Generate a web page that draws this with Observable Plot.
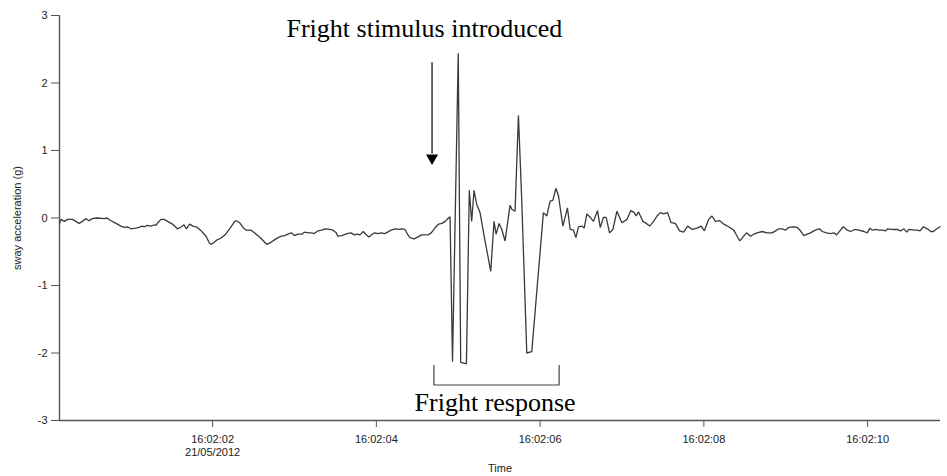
<!DOCTYPE html>
<html>
<head>
<meta charset="utf-8">
<script src="https://cdn.jsdelivr.net/npm/d3@7"></script>
<script src="https://cdn.jsdelivr.net/npm/@observablehq/plot@0.6"></script>
<style>
  html, body { margin: 0; padding: 0; background: #fff; }
</style>
</head>
<body>
<div id="chart"></div>
<script>
// seconds after 16:02:00 on 21/05/2012
const times = [
  0.13,0.15,0.19,0.23,0.29,0.33,0.37,0.41,0.45,0.49,0.53,0.59,0.68,0.71,0.76,0.82,0.88,0.92,0.96,1.00,
  1.06,1.10,1.14,1.17,1.20,1.25,1.29,1.31,1.33,1.37,1.41,1.45,1.51,1.57,1.62,1.65,1.68,1.72,1.76,1.80,
  1.86,1.92,1.96,1.98,2.02,2.06,2.10,2.16,2.22,2.27,2.29,2.33,2.37,2.41,2.47,2.51,2.58,2.66,2.70,2.76,
  2.80,2.84,2.88,2.92,2.96,3.00,3.04,3.09,3.12,3.17,3.21,3.24,3.29,3.33,3.38,3.43,3.47,3.51,3.53,3.58,
  3.64,3.69,3.73,3.77,3.80,3.84,3.87,3.91,3.95,3.98,4.02,4.06,4.10,4.12,4.18,4.23,4.28,4.31,4.35,4.38,
  4.41,4.46,4.51,4.55,4.59,4.63,4.67,4.72,4.76,4.80,4.84,4.88,4.90,
  4.93,5.00,5.03,5.10,5.135,5.164,5.193,5.226,5.266,5.327,5.397,5.437,5.462,5.499,5.532,5.572,5.633,5.654,
  5.694,5.735,5.776,5.837,5.898,6.04,6.082,6.122,6.155,6.192,6.224,
  6.278,6.334,6.367,6.407,6.437,6.468,6.51,6.538,6.571,6.612,6.652,6.701,6.734,6.774,6.807,6.848,6.889,
  6.938,6.999,7.061,7.109,7.15,7.174,7.202,7.256,7.297,7.337,7.386,7.428,7.468,7.508,7.557,7.599,7.651,
  7.704,7.753,7.802,7.856,7.917,7.966,8.006,8.059,8.10,8.141,8.193,8.242,8.303,8.365,8.406,8.438,8.479,8.52,
  8.569,8.609,8.651,8.712,8.773,8.834,8.875,8.915,8.957,8.997,9.037,9.098,9.14,9.18,9.221,9.262,9.303,
  9.343,9.385,9.413,9.446,9.498,9.547,9.588,9.621,9.661,9.703,9.752,9.792,9.841,9.894,9.955,9.996,10.028,
  10.057,10.098,10.138,10.18,10.22,10.241,10.302,10.363,10.404,10.444,10.477,10.505,10.566,10.608,10.64,
  10.681,10.73,10.771,10.804,10.844,10.885
];
const sway = [
  -0.08,-0.02,-0.05,-0.02,-0.02,-0.05,-0.08,-0.05,-0.01,-0.04,-0.01,0.00,-0.01,0.00,-0.04,-0.08,-0.12,-0.14,-0.13,-0.16,
  -0.15,-0.14,-0.12,-0.13,-0.11,-0.12,-0.10,-0.11,-0.07,-0.02,-0.02,-0.05,-0.09,-0.16,-0.13,-0.10,-0.16,-0.09,-0.12,-0.13,
  -0.19,-0.27,-0.37,-0.39,-0.36,-0.32,-0.30,-0.24,-0.14,-0.05,-0.04,-0.07,-0.14,-0.18,-0.18,-0.22,-0.29,-0.39,-0.37,-0.32,
  -0.29,-0.27,-0.26,-0.24,-0.22,-0.26,-0.24,-0.24,-0.21,-0.22,-0.22,-0.23,-0.19,-0.18,-0.16,-0.17,-0.18,-0.22,-0.27,-0.26,
  -0.23,-0.22,-0.25,-0.24,-0.25,-0.20,-0.24,-0.28,-0.24,-0.22,-0.23,-0.22,-0.23,-0.22,-0.18,-0.16,-0.17,-0.16,-0.17,-0.24,
  -0.29,-0.31,-0.28,-0.25,-0.25,-0.25,-0.22,-0.14,-0.09,-0.08,-0.05,0.00,0.02,
  -2.13,2.44,-2.14,-2.16,0.41,-0.05,0.41,0.20,0.08,-0.34,-0.79,-0.05,-0.24,-0.08,-0.17,-0.34,0.19,0.13,
  0.10,1.52,0.25,-2.00,-1.98,0.08,0.03,0.25,0.26,0.44,0.33,
  -0.12,0.15,-0.17,-0.18,-0.29,-0.13,-0.12,-0.15,0.06,0.01,-0.05,0.11,-0.14,0.01,0.01,-0.22,-0.17,
  0.10,-0.07,-0.02,0.11,0.08,0.03,0.09,-0.05,-0.08,-0.12,-0.05,0.03,0.08,0.06,0.08,-0.07,-0.08,
  -0.19,-0.21,-0.12,-0.17,-0.15,-0.12,-0.19,-0.02,0.03,-0.05,-0.04,-0.09,-0.13,-0.18,-0.27,-0.34,-0.28,-0.22,
  -0.27,-0.24,-0.22,-0.20,-0.22,-0.22,-0.19,-0.16,-0.16,-0.18,-0.14,-0.13,-0.14,-0.19,-0.26,-0.24,-0.22,
  -0.19,-0.17,-0.16,-0.20,-0.22,-0.23,-0.22,-0.25,-0.19,-0.13,-0.18,-0.20,-0.17,-0.18,-0.20,-0.22,-0.15,
  -0.18,-0.17,-0.18,-0.18,-0.19,-0.16,-0.17,-0.17,-0.19,-0.16,-0.21,-0.17,-0.18,-0.18,-0.19,
  -0.13,-0.16,-0.20,-0.20,-0.16,-0.13
];

const yTicks = [-3, -2, -1, 0, 1, 2, 3];
const xTicks = [2, 4, 6, 8, 10];
const xTickLabels = ["16:02:02\n21/05/2012", "16:02:04", "16:02:06", "16:02:08", "16:02:10"];

// annotations (data coordinates)
const stimulusLabel = "Fright stimulus introduced";
const stimulusLabelPos = [4.587, 2.675];
const arrowX = 4.68;
const arrowY = [2.30, 0.95];
const arrowHeadY = 0.89;
const responseLabel = "Fright response";
const responseLabelPos = [5.45, -2.853];
const bracketX = [4.703, 4.703, 6.232, 6.232];
const bracketY = [-2.184, -2.474, -2.474, -2.184];

const data = times.map((t, i) => ({t, v: sway[i]}));
const bracket = bracketX.map((x, i) => ({x, y: bracketY[i]}));

const chart = Plot.plot({
  width: 947,
  height: 476,
  marginLeft: 59,
  marginRight: 7,
  marginTop: 15,
  marginBottom: 56,
  style: {fontFamily: "'Liberation Sans', Arial, sans-serif", fontSize: "11px", color: "#222", background: "#fff"},
  x: {domain: [0.13, 10.89]},
  y: {domain: [-3, 3]},
  marks: [
    Plot.axisY({ticks: yTicks, tickSize: 8, tickPadding: 4, tickFormat: d => String(d),
      label: "sway acceleration (g)", labelAnchor: "center", labelArrow: "none", labelOffset: 46,
      stroke: "#555", fill: "#222", fontSize: 11}),
    Plot.axisX({ticks: xTicks, tickSize: 7, tickPadding: 7, tickFormat: (d, i) => xTickLabels[i],
      label: "Time", labelAnchor: "center", labelArrow: "none", labelOffset: 51,
      stroke: "#555", fill: "#222", fontSize: 11, lineHeight: 1.15}),
    Plot.ruleX([0.13], {stroke: "#555", strokeWidth: 1.4}),
    Plot.ruleY([-3], {stroke: "#555", strokeWidth: 1.4}),
    Plot.line(data, {x: "t", y: "v", stroke: "#3a3a3a", strokeWidth: 1.3, strokeLinejoin: "miter"}),
    Plot.text([stimulusLabel], {x: stimulusLabelPos[0], y: stimulusLabelPos[1], text: d => d,
      fontFamily: "'Liberation Serif', 'Times New Roman', serif", fontSize: 26, fill: "#000",
      textAnchor: "middle", lineAnchor: "bottom"}),
    Plot.ruleX([arrowX], {y1: arrowY[0], y2: arrowY[1], stroke: "#000", strokeWidth: 1.2}),
    Plot.dot([arrowX], {x: d => d, y: arrowHeadY, symbol: "triangle", r: 4.5, rotate: 180, fill: "#000", stroke: "none"}),
    Plot.line(bracket, {x: "x", y: "y", stroke: "#444", strokeWidth: 1.2}),
    Plot.text([responseLabel], {x: responseLabelPos[0], y: responseLabelPos[1], text: d => d,
      fontFamily: "'Liberation Serif', 'Times New Roman', serif", fontSize: 26, fill: "#000",
      textAnchor: "middle", lineAnchor: "bottom"})
  ]
});
document.getElementById("chart").appendChild(chart);
</script>
</body>
</html>
